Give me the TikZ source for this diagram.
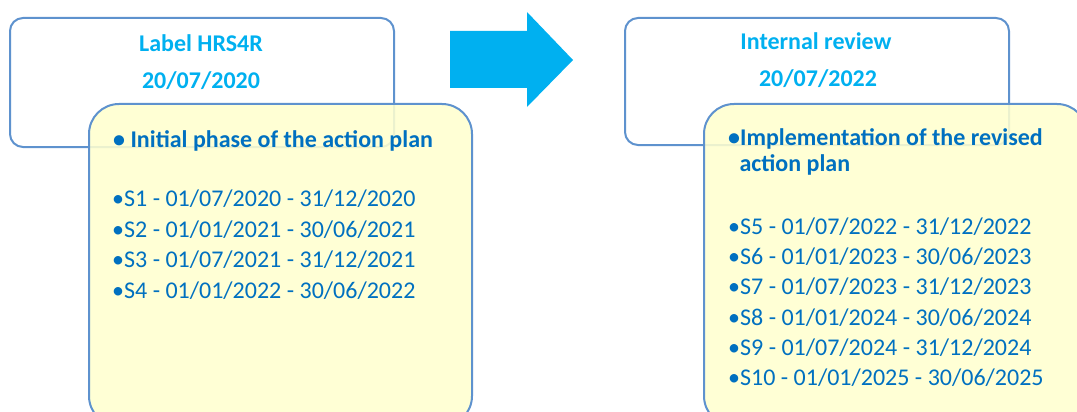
\documentclass[tikz,border=0pt]{standalone}
\usepackage{fontspec}
\setmainfont{Carlito}
\definecolor{boxline}{HTML}{5E92CE}
\definecolor{notefill}{HTML}{FFFFCF}
\definecolor{titleblue}{HTML}{00B0F0}
\definecolor{textblue}{HTML}{0070C0}
\tikzset{
  milestone/.style={draw=boxline, line width=2pt, rounded corners=13pt, fill=white, anchor=north west},
  phasebox/.style={draw=boxline, line width=2pt, rounded corners=30pt, fill=notefill, fill opacity=0.88, anchor=north west},
  titletext/.style={text=titleblue, font=\bfseries\fontsize{24}{29}\selectfont, inner sep=0pt, anchor=base},
  headtext/.style={text=textblue, font=\bfseries\fontsize{24}{29}\selectfont, inner sep=0pt, anchor=base west},
  steptext/.style={text=textblue, font=\fontsize{24}{29}\selectfont, inner sep=0pt, anchor=base west}
}
\begin{document}
\begin{tikzpicture}[x=1pt, y=-1pt]
  \useasboundingbox (0,0) rectangle (1077,412);
  \clip (0,0) rectangle (1077,412);
      %Caixas superiores
  \node[milestone, minimum width=384pt, minimum height=129pt] (labelbox) at (9,17) {};
  \node[milestone, minimum width=384pt, minimum height=127pt] (reviewbox) at (624,17) {};
  \node[titletext] (labeltitle) at (201,51.7) {Label HRS4R};
  \node[titletext] (labeldate) at (201,88.3) {20/07/2020};
  \node[titletext] (reviewtitle) at (816,50) {Internal review};
  \node[titletext] (reviewdate) at (818,86.7) {20/07/2022};
      %Seta
  \fill[titleblue] (450,31) -- (527,31) -- (527,12) -- (573,60) -- (527,107) -- (527,88) -- (450,88) -- cycle;
      %Caixas amarelas
  \node[phasebox, minimum width=383pt, minimum height=322pt] (initialbox) at (88,103) {};
  \node[phasebox, minimum width=383pt, minimum height=322pt] (revisedbox) at (703,103) {};
      %Fase inicial
  \node[headtext] (initialhead) at (113,147) {• Initial phase of the action plan};
  \node[steptext] (sone) at (112,206.7) {•S1 - 01/07/2020 - 31/12/2020};
  \node[steptext] (stwo) at (112,237) {•S2 - 01/01/2021 - 30/06/2021};
  \node[steptext] (sthree) at (112,267.5) {•S3 - 01/07/2021 - 31/12/2021};
  \node[steptext] (sfour) at (112,298) {•S4 - 01/01/2022 - 30/06/2022};
      %Plano revisto
  \node[headtext] (revisedhead) at (728,146) {•Implementation of the revised};
  \node[headtext] (revisedheadb) at (739.3,171.7) {action plan};
  \node[steptext] (sfive) at (728,234.3) {•S5 - 01/07/2022 - 31/12/2022};
  \node[steptext] (ssix) at (728,264.5) {•S6 - 01/01/2023 - 30/06/2023};
  \node[steptext] (sseven) at (728,294.7) {•S7 - 01/07/2023 - 31/12/2023};
  \node[steptext] (seight) at (728,325) {•S8 - 01/01/2024 - 30/06/2024};
  \node[steptext] (snine) at (728,355) {•S9 - 01/07/2024 - 31/12/2024};
  \node[steptext] (sten) at (728,385.3) {•S10 - 01/01/2025 - 30/06/2025};
\end{tikzpicture}
\end{document}
